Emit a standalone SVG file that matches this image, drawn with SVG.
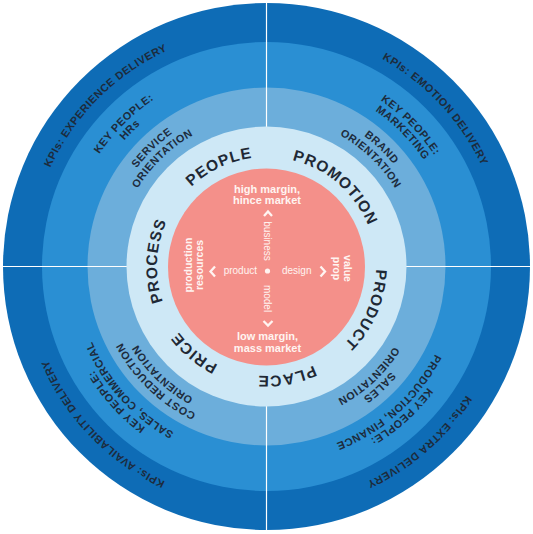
<svg xmlns="http://www.w3.org/2000/svg" xmlns:xlink="http://www.w3.org/1999/xlink" width="533" height="534" viewBox="0 0 533 534">
<style>
.ring{font-family:"Liberation Sans",Arial,sans-serif;font-weight:700;font-size:10.8px;letter-spacing:0.5px;fill:#1d2b3c}
.mix{font-family:"Liberation Sans",Arial,sans-serif;font-weight:700;font-size:15.5px;letter-spacing:1px;fill:#1f2935}
.core{font-family:"Liberation Sans",Arial,sans-serif;fill:#fff4f1}
.cb{font-weight:700;font-size:11px}
.cs{font-size:10px}
.cv{font-weight:700;font-size:10.5px}
.chev{fill:none;stroke:#fff4f1;stroke-width:2.3}
.div{stroke:#ffffff;stroke-width:1.2}
</style>
<defs>
<path id="r237" d="M266.5,29 A237.5,237.5 0 1 1 266.5,504 A237.5,237.5 0 1 1 266.5,29"/>
<path id="r201" d="M266.5,65 A201.5,201.5 0 1 1 266.5,468 A201.5,201.5 0 1 1 266.5,65"/>
<path id="r190" d="M266.5,76.5 A190,190 0 1 1 266.5,456.5 A190,190 0 1 1 266.5,76.5"/>
<path id="r163" d="M266.5,103.5 A163,163 0 1 1 266.5,429.5 A163,163 0 1 1 266.5,103.5"/>
<path id="r150" d="M266.5,116 A150.5,150.5 0 1 1 266.5,417 A150.5,150.5 0 1 1 266.5,116"/>
<path id="r109" d="M266.5,157 A109.5,109.5 0 1 1 266.5,376 A109.5,109.5 0 1 1 266.5,157"/>
</defs>
<rect width="533" height="534" fill="#ffffff"/>
<g id="rings">
<circle cx="266.5" cy="266.5" r="263.5" fill="#0e6cb6"/>
<circle cx="266.5" cy="266.5" r="224.5" fill="#2a8fd3"/>
<circle cx="266.5" cy="266.5" r="179" fill="#6caedb"/>
</g>
<g id="dividers">
<line class="div" x1="266.5" y1="0" x2="266.5" y2="127"/>
<line class="div" x1="266.5" y1="406" x2="266.5" y2="534"/>
<line class="div" x1="0" y1="266.5" x2="127" y2="266.5"/>
<line class="div" x1="406" y1="266.5" x2="533" y2="266.5"/>
</g>
<g id="mix-ring">
<circle cx="266.5" cy="266.5" r="140" fill="#cee8f6"/>
<text class="mix"><textPath xlink:href="#r109" href="#r109" startOffset="92.97%" text-anchor="middle">PEOPLE</textPath></text>
<text class="mix"><textPath xlink:href="#r109" href="#r109" startOffset="11.39%" text-anchor="middle">PROMOTION</textPath></text>
<text class="mix"><textPath xlink:href="#r109" href="#r109" startOffset="31.5%" text-anchor="middle">PRODUCT</textPath></text>
<text class="mix"><textPath xlink:href="#r109" href="#r109" startOffset="47.1%" text-anchor="middle">PLACE</textPath></text>
<text class="mix"><textPath xlink:href="#r109" href="#r109" startOffset="61.1%" text-anchor="middle">PRICE</textPath></text>
<text class="mix"><textPath xlink:href="#r109" href="#r109" startOffset="75.8%" text-anchor="middle">PROCESS</textPath></text>
</g>
<g id="quadrant-top-left">
<text class="ring"><textPath xlink:href="#r237" href="#r237" startOffset="87.5%" text-anchor="middle">KPIs: EXPERIENCE DELIVERY</textPath></text>
<text class="ring"><textPath xlink:href="#r201" href="#r201" startOffset="87.5%" text-anchor="middle">KEY PEOPLE:</textPath></text>
<text class="ring"><textPath xlink:href="#r190" href="#r190" startOffset="87.5%" text-anchor="middle">HRs</textPath></text>
<text class="ring"><textPath xlink:href="#r163" href="#r163" startOffset="87.78%" text-anchor="middle">SERVICE</textPath></text>
<text class="ring"><textPath xlink:href="#r150" href="#r150" startOffset="87.78%" text-anchor="middle">ORIENTATION</textPath></text>
</g>
<g id="quadrant-top-right">
<text class="ring"><textPath xlink:href="#r237" href="#r237" startOffset="13.06%" text-anchor="middle">KPIs: EMOTION DELIVERY</textPath></text>
<text class="ring"><textPath xlink:href="#r201" href="#r201" startOffset="12.64%" text-anchor="middle">KEY PEOPLE:</textPath></text>
<text class="ring"><textPath xlink:href="#r190" href="#r190" startOffset="12.64%" text-anchor="middle">MARKETING</textPath></text>
<text class="ring"><textPath xlink:href="#r163" href="#r163" startOffset="12.22%" text-anchor="middle">BRAND</textPath></text>
<text class="ring"><textPath xlink:href="#r150" href="#r150" startOffset="12.22%" text-anchor="middle">ORIENTATION</textPath></text>
</g>
<g id="quadrant-bottom-right">
<text class="ring"><textPath xlink:href="#r237" href="#r237" startOffset="38.6%" text-anchor="middle">KPIs: EXTRA DELIVERY</textPath></text>
<text class="ring"><textPath xlink:href="#r201" href="#r201" startOffset="38.33%" text-anchor="middle">KEY PEOPLE:</textPath></text>
<text class="ring"><textPath xlink:href="#r190" href="#r190" startOffset="38.33%" text-anchor="middle">PRODUCTION, FINANCE</textPath></text>
<text class="ring"><textPath xlink:href="#r163" href="#r163" startOffset="38.06%" text-anchor="middle">SALES</textPath></text>
<text class="ring"><textPath xlink:href="#r150" href="#r150" startOffset="38.06%" text-anchor="middle">ORIENTATION</textPath></text>
</g>
<g id="quadrant-bottom-left">
<text class="ring"><textPath xlink:href="#r237" href="#r237" startOffset="62.8%" text-anchor="middle">KPIs: AVAILABILITY DELIVERY</textPath></text>
<text class="ring"><textPath xlink:href="#r201" href="#r201" startOffset="63.33%" text-anchor="middle">KEY PEOPLE:</textPath></text>
<text class="ring"><textPath xlink:href="#r190" href="#r190" startOffset="63.33%" text-anchor="middle">SALES, COMMERCIAL</textPath></text>
<text class="ring"><textPath xlink:href="#r163" href="#r163" startOffset="62.22%" text-anchor="middle">COST REDUCTION</textPath></text>
<text class="ring"><textPath xlink:href="#r150" href="#r150" startOffset="62.22%" text-anchor="middle">ORIENTATION</textPath></text>
</g>
<g id="core">
<circle cx="266.5" cy="267" r="98.5" fill="#f4908a"/>
<text class="core cb" x="267" y="193" text-anchor="middle">high margin,</text>
<text class="core cb" x="267" y="204" text-anchor="middle">hince market</text>
<text class="core cb" x="267.5" y="340" text-anchor="middle">low margin,</text>
<text class="core cb" x="267.5" y="351.5" text-anchor="middle">mass market</text>
<text class="core cs" x="257" y="274" text-anchor="end">product</text>
<text class="core cs" x="282" y="274">design</text>
<text class="core cs" transform="translate(264,241) rotate(90)" text-anchor="middle">business</text>
<text class="core cs" transform="translate(264,298.5) rotate(90)" text-anchor="middle">model</text>
<text class="core cv" transform="translate(192,265) rotate(-90)" text-anchor="middle">production</text>
<text class="core cv" transform="translate(203,265) rotate(-90)" text-anchor="middle">resources</text>
<text class="core cv" transform="translate(343.5,268.5) rotate(90)" text-anchor="middle">value</text>
<text class="core cv" transform="translate(333,268.5) rotate(90)" text-anchor="middle">prop</text>
<polyline class="chev" points="264,216 268,211.5 272,216"/>
<polyline class="chev" points="263.5,321 268,325.5 272.5,321"/>
<polyline class="chev" points="215,266.5 210.5,271.5 215,276.5"/>
<polyline class="chev" points="320.5,266.5 325,271.5 320.5,276.5"/>
<circle cx="267.5" cy="271" r="2.6" fill="#fff4f1"/>
</g>
</svg>
